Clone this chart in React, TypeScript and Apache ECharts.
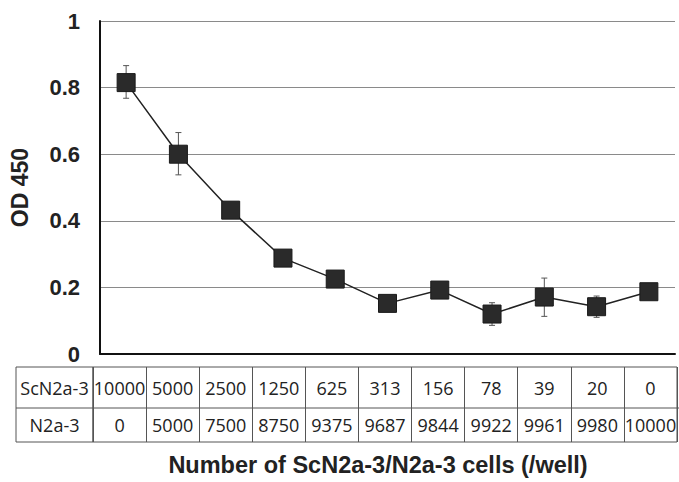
import React, { useEffect, useRef } from "react";
import * as echarts from "echarts";

const scnCells = ["10000", "5000", "2500", "1250", "625", "313", "156", "78", "39", "20", "0"];
const n2aCells = ["0", "5000", "7500", "8750", "9375", "9687", "9844", "9922", "9961", "9980", "10000"];
const odValues = [0.815, 0.6, 0.432, 0.288, 0.225, 0.152, 0.192, 0.12, 0.171, 0.142, 0.187];
const errLow = [0.768, 0.538, 0.415, 0.28, 0.218, 0.146, 0.186, 0.086, 0.113, 0.11, 0.181];
const errHigh = [0.866, 0.665, 0.45, 0.296, 0.232, 0.158, 0.198, 0.154, 0.228, 0.174, 0.193];
const yTicks = { min: 0, max: 1, interval: 0.2 };
const rowHeaders = ["ScN2a-3", "N2a-3"];
const yTitle = "OD 450";
const xTitle = "Number of ScN2a-3/N2a-3 cells (/well)";

const TABLE_FONT = "'Open Sans', Lato, sans-serif";
const BOLD_FONT = "'Liberation Sans', Arial, sans-serif";

export default function App() {
  const ref = useRef<HTMLDivElement>(null);
  useEffect(() => {
    if (!ref.current) return;
    const chart = echarts.init(ref.current, null, { renderer: "svg" });
    const errData = errLow.map((lo, i) => [i, lo, errHigh[i]]);
    const cellLabel = (margin: number) => ({
      inside: true,
      margin,
      verticalAlign: "middle",
      fontFamily: TABLE_FONT,
      fontSize: 18,
      color: "#222",
      interval: 0,
    });
    chart.setOption({
      animation: false,
      backgroundColor: "#ffffff",
      grid: [
        { left: 97, top: 21, width: 578, height: 333 },
        { left: 93, top: 367, width: 588, height: 75, show: true, borderColor: "#555", borderWidth: 1 },
      ],
      xAxis: [
        {
          type: "category",
          gridIndex: 0,
          data: scnCells,
          axisLine: { show: true, lineStyle: { color: "#111", width: 2 } },
          axisTick: { show: false },
          axisLabel: { show: false },
          splitLine: { show: false },
        },
        {
          type: "category",
          gridIndex: 1,
          position: "top",
          data: scnCells,
          axisLine: { show: false },
          axisTick: { show: false },
          axisLabel: cellLabel(20.5),
          splitLine: { show: true, interval: 0, lineStyle: { color: "#555", width: 1 } },
        },
        {
          type: "category",
          gridIndex: 1,
          position: "bottom",
          data: n2aCells,
          axisLine: { show: false },
          axisTick: { show: false },
          axisLabel: cellLabel(17),
          splitLine: { show: false },
        },
      ],
      yAxis: [
        {
          type: "value",
          gridIndex: 0,
          min: yTicks.min,
          max: yTicks.max,
          interval: yTicks.interval,
          name: yTitle,
          nameLocation: "middle",
          nameGap: 69,
          nameTextStyle: { fontFamily: BOLD_FONT, fontWeight: "bold", fontSize: 23, color: "#222" },
          axisLine: { show: true, lineStyle: { color: "#111", width: 2 } },
          axisTick: { show: false },
          axisLabel: { margin: 20, fontFamily: BOLD_FONT, fontWeight: "bold", fontSize: 22, color: "#222" },
          splitLine: { show: true, lineStyle: { color: "#8a8a8a", width: 1 } },
        },
        {
          type: "value",
          gridIndex: 1,
          show: false,
        },
      ],
      series: [
        {
          type: "custom",
          xAxisIndex: 0,
          yAxisIndex: 0,
          data: errData,
          encode: { x: 0, y: [1, 2] },
          z: 1,
          renderItem: (params: any, api: any) => {
            const x = api.value(0);
            const lo = api.coord([x, api.value(1)]);
            const hi = api.coord([x, api.value(2)]);
            const half = 3;
            const style = { stroke: "#555", lineWidth: 1 };
            return {
              type: "group",
              children: [
                { type: "line", shape: { x1: hi[0], y1: hi[1], x2: lo[0], y2: lo[1] }, style },
                { type: "line", shape: { x1: hi[0] - half, y1: hi[1], x2: hi[0] + half, y2: hi[1] }, style },
                { type: "line", shape: { x1: lo[0] - half, y1: lo[1], x2: lo[0] + half, y2: lo[1] }, style },
              ],
            };
          },
        },
        {
          type: "line",
          xAxisIndex: 0,
          yAxisIndex: 0,
          data: odValues,
          symbol: "rect",
          symbolSize: 18,
          z: 3,
          itemStyle: { color: "#2a2a2a", borderColor: "#1a1a1a", borderWidth: 1 },
          lineStyle: { color: "#222", width: 1.5 },
        },
      ],
      graphic: [
        {
          type: "rect",
          shape: { x: 16, y: 367, width: 77, height: 75 },
          style: { fill: "none", stroke: "#555", lineWidth: 1 },
        },
        {
          type: "line",
          shape: { x1: 16, y1: 408, x2: 681, y2: 408 },
          style: { stroke: "#555", lineWidth: 1 },
        },
        {
          type: "text",
          x: 54.5,
          y: 387.5,
          style: {
            text: rowHeaders[0],
            align: "center",
            verticalAlign: "middle",
            fontFamily: TABLE_FONT,
            fontSize: 18,
            fill: "#222",
          },
        },
        {
          type: "text",
          x: 54.5,
          y: 425,
          style: {
            text: rowHeaders[1],
            align: "center",
            verticalAlign: "middle",
            fontFamily: TABLE_FONT,
            fontSize: 18,
            fill: "#222",
          },
        },
        {
          type: "text",
          x: 378,
          y: 465,
          style: {
            text: xTitle,
            align: "center",
            verticalAlign: "middle",
            fontFamily: BOLD_FONT,
            fontWeight: "bold",
            fontSize: 23.5,
            fill: "#222",
          },
        },
      ],
    });
    return () => chart.dispose();
  }, []);
  return (
    <div
      ref={ref}
      style={{ position: "absolute", left: 0, top: 0, width: 679, height: 482 }}
    />
  );
}
